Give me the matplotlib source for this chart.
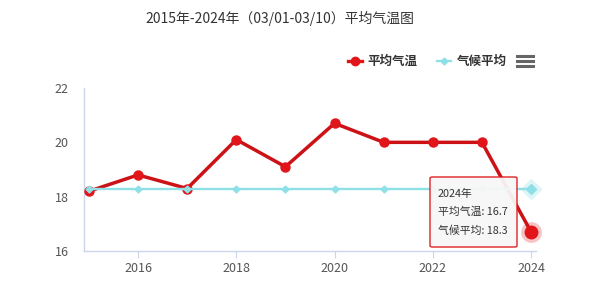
import matplotlib
matplotlib.use("Agg")
import matplotlib.pyplot as plt
from matplotlib.lines import Line2D
from matplotlib.patches import FancyBboxPatch

plt.rcParams['font.family'] = ['Noto Sans CJK SC', 'DejaVu Sans']

years = [2015, 2016, 2017, 2018, 2019, 2020, 2021, 2022, 2023, 2024]
avg_temp = [18.2, 18.8, 18.3, 20.1, 19.1, 20.7, 20.0, 20.0, 20.0, 16.7]
climate_avg = [18.3] * 10
xticks = [2016, 2018, 2020, 2022, 2024]
yticks = [16, 18, 20, 22]
title = "2015年-2024年（03/01-03/10）平均气温图"
series_names = ["平均气温", "气候平均"]

RED = "#e0161b"
CYAN = "#8fe0e6"

fig = plt.figure(figsize=(5.93, 2.90), dpi=100)
ax = fig.add_axes([84/593, 39/290, (536-84)/593, (251-88)/290])

ax.plot(years, avg_temp, color="#cc1216", lw=2.5, marker="o", ms=6.5,
        mfc=RED, mec=RED, zorder=3, solid_joinstyle="round")
ax.plot(years, climate_avg, color=CYAN, lw=1.7, marker="D", ms=3.5,
        mfc=CYAN, mec=CYAN, zorder=4)
# highlighted last points
ax.plot(years[-1], avg_temp[-1], "o", ms=15, color=RED, alpha=0.25, mec="none", zorder=2, clip_on=False)
ax.plot(years[-1], avg_temp[-1], "o", ms=9, color=RED, zorder=5, clip_on=False)
ax.plot(years[-1], climate_avg[-1], "D", ms=11, color=CYAN, alpha=0.3, mec="none", zorder=2, clip_on=False)
ax.plot(years[-1], climate_avg[-1], "D", ms=5.5, color=CYAN, zorder=5, clip_on=False)

ax.set_xlim(2014.9, 2024.1)
ax.set_ylim(16, 22)
ax.set_xticks(xticks)
ax.set_yticks(yticks)
for s in ["top", "right"]:
    ax.spines[s].set_visible(False)
for s in ["left", "bottom"]:
    ax.spines[s].set_color("#ccd6eb")
    ax.spines[s].set_linewidth(1)
ax.tick_params(axis="x", length=5, color="#ccd6eb", labelsize=9, labelcolor="#555555", pad=3)
ax.tick_params(axis="y", length=0, labelsize=9, labelcolor="#555555", pad=11)

fig.text(280/593, 1 - 18/290, title, ha="center", va="center", fontsize=10, color="#333333")

# legend
ly = 1 - 61/290
fig.add_artist(Line2D([348/593, 362/593], [ly, ly], color=RED, lw=2.4))
fig.add_artist(Line2D([355/593], [ly], color=RED, marker="o", ms=6))
fig.text(367/593, ly, series_names[0], fontsize=9, color="#333333", va="center", fontweight="bold")
fig.add_artist(Line2D([437/593, 451/593], [ly, ly], color=CYAN, lw=1.6))
fig.add_artist(Line2D([444/593], [ly], color=CYAN, marker="D", ms=3.5))
fig.text(457/593, ly, series_names[1], fontsize=9, color="#333333", va="center", fontweight="bold")
for dy in [-5, 0, 5]:
    y = 1 - (61 + dy)/290
    fig.add_artist(Line2D([517/593, 533/593], [y, y], color="#666666", lw=2.2))

# tooltip
tb = FancyBboxPatch((430/593, 1 - 247/290), (517-430)/593, (247-177)/290,
                    boxstyle="round,pad=0,rounding_size=0.004", transform=fig.transFigure,
                    fc="#f7f7f7", ec=RED, lw=1, alpha=0.95, zorder=10)
fig.add_artist(tb)
fig.text(438/593, 1 - 194/290, f"{years[-1]}年", fontsize=7.8, color="#333333", va="center", zorder=11)
fig.text(438/593, 1 - 212/290, f"{series_names[0]}: {avg_temp[-1]}", fontsize=7.8,
         color="#333333", va="center", zorder=11)
fig.text(438/593, 1 - 231/290, f"{series_names[1]}: {climate_avg[-1]}", fontsize=7.8,
         color="#333333", va="center", zorder=11)

fig.savefig("out.png", dpi=100, facecolor="white")
